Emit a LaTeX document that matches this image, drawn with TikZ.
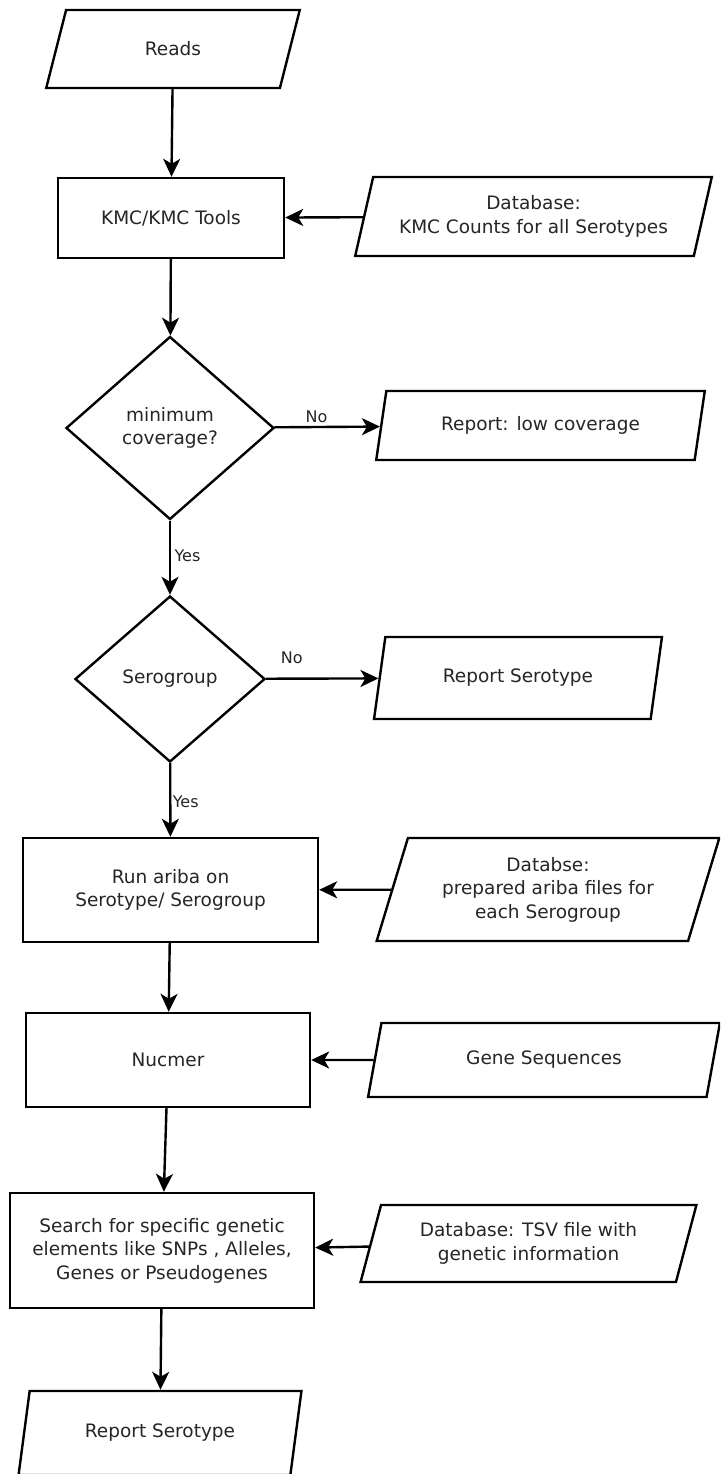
\documentclass[tikz,border=0pt]{standalone}
\usepackage{fontspec}
\setmainfont{DejaVu Sans}
\usetikzlibrary{shapes.geometric,arrows.meta}
\begin{document}
\begin{tikzpicture}[x=1pt,y=-1pt,>={Stealth[length=18pt,width=17pt,inset=5pt]},line width=2.4pt,
  font=\fontsize{18.5}{23.5}\selectfont,text=black!85,
  proc/.style={draw,rectangle,inner sep=0pt,align=center},
  io/.style={draw,trapezium,trapezium left angle=70,trapezium right angle=110,trapezium stretches=true,inner sep=0pt,align=center},
  dec/.style={draw,diamond,inner sep=0pt,align=center},
  lbl/.style={font=\fontsize{16}{19}\selectfont}]
\clip (0,0) rectangle (720,1474);
\fill[white] (0,0) rectangle (720,1474);
% main column
\node[io,minimum width=254pt,minimum height=78pt] (reads) at (173,49) {Reads};
\node[proc,minimum width=226pt,minimum height=80pt] (kmc) at (171,218) {KMC/KMC Tools};
\node[dec,minimum width=208pt,minimum height=183pt] (cov) at (170,428) {minimum\\coverage?};
\node[dec,minimum width=190pt,minimum height=166pt] (grp) at (170,679) {Serogroup};
\node[proc,minimum width=295pt,minimum height=104pt] (ariba) at (170.5,890) {Run ariba on\\Serotype/ Serogroup};
\node[proc,minimum width=284pt,minimum height=94pt] (nuc) at (168,1060) {Nucmer};
\node[proc,minimum width=304pt,minimum height=115pt] (search) at (162,1250.5) {Search for specific genetic\\elements like SNPs , Alleles,\\Genes or Pseudogenes};
\node[io,minimum width=283pt,minimum height=84pt] (rep2) at (160,1433) {Report Serotype};
% inputs and outputs
\node[io,minimum width=357pt,minimum height=79pt] (db1) at (533.5,216.5) {Database:\\KMC Counts for all Serotypes};
\node[io,minimum width=329pt,minimum height=69pt] (low) at (540.5,425.5) {Report: low coverage};
\node[io,minimum width=288pt,minimum height=82pt] (rep1) at (518,678) {Report Serotype};
\node[io,minimum width=344pt,minimum height=103pt] (db2) at (548,889.5) {Databse:\\prepared ariba files for\\each Serogroup};
\node[io,minimum width=352pt,minimum height=74pt] (genes) at (544,1060) {Gene Sequences};
\node[io,minimum width=337pt,minimum height=77pt] (db3) at (528.5,1243.5) {Database: TSV file with\\genetic information};
% connectors
\draw[->] (reads) -- (kmc);
\draw[->] (db1) -- (kmc);
\draw[->] (kmc) -- (cov);
\draw[->] (cov) -- node[lbl,above,pos=0.4] {No} (low);
\draw[->] (cov) -- node[lbl,right,pos=0.47] {Yes} (grp);
\draw[->] (grp) -- node[lbl,above=10pt,pos=0.23] {No} (rep1);
\draw[->] (grp) -- node[lbl,right=-2pt,pos=0.53] {Yes} (ariba);
\draw[->] (db2) -- (ariba);
\draw[->] (ariba) -- (nuc);
\draw[->] (genes) -- (nuc);
\draw[->] (nuc) -- (search);
\draw[->] (db3) -- (search);
\draw[->] (search) -- (rep2);
\end{tikzpicture}
\end{document}
